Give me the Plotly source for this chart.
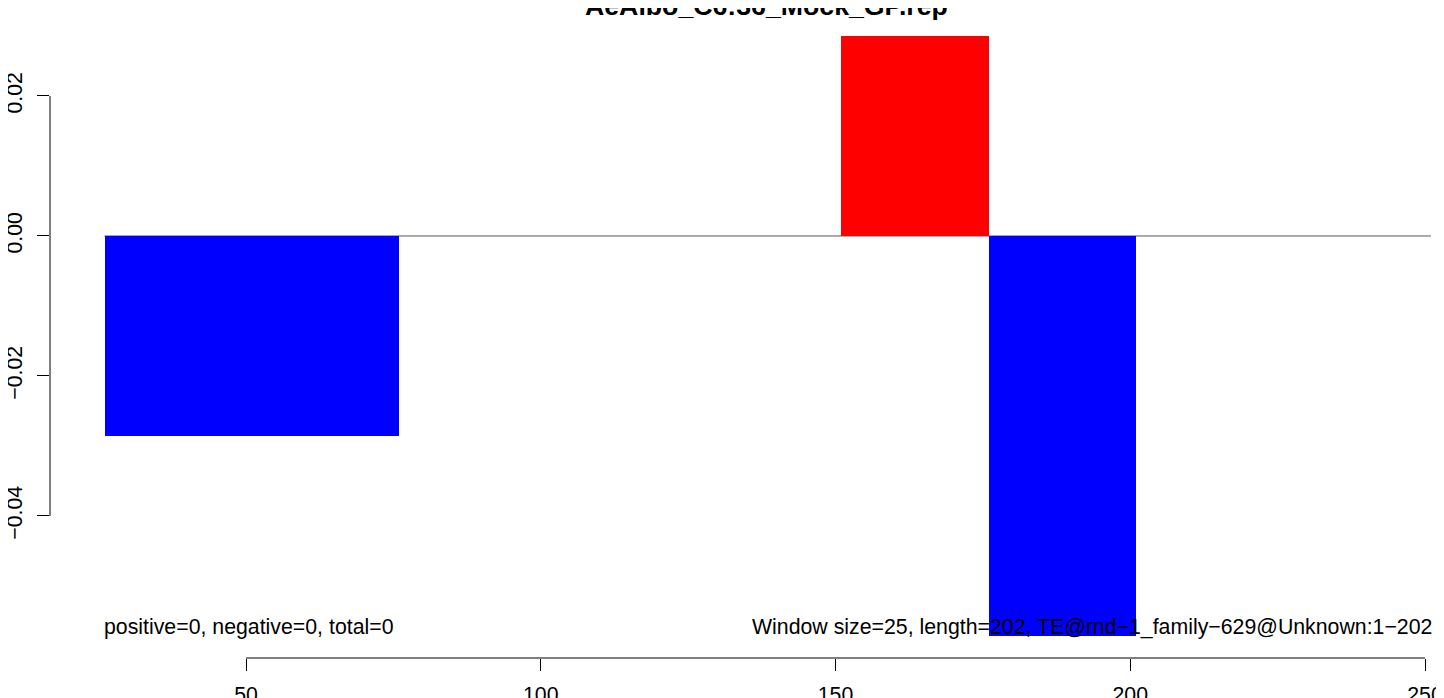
import plotly.graph_objects as go

# ---- data ----
window_starts = [26, 51, 76, 101, 126, 151, 176, 201, 226]
window_values = [-0.0286, -0.0286, 0.0, 0.0, 0.0, 0.0286, -0.0571, 0.0, 0.0]
window_size = 25
x_ticks = [50, 100, 150, 200, 250]
y_ticks = [0.02, 0.00, -0.02, -0.04]
y_tick_labels = ["0.02", "0.00", "\u22120.02", "\u22120.04"]
title_text = "AeAlbo_C6:36_Mock_GP.rep"
left_note = "positive=0, negative=0, total=0"
right_note = "Window size=25, length=202, TE@rnd\u22121_family\u2212629@Unknown:1\u2212202"

FONT = "Liberation Sans, Arial, Helvetica, sans-serif"
FS = 21.3

colors = ["#FF0000" if v > 0 else "#0000FF" for v in window_values]
centers = [s + window_size / 2 for s in window_starts]

fig = go.Figure()
fig.add_trace(go.Bar(
    x=centers, y=window_values, width=[window_size] * len(centers),
    marker=dict(color=colors, line=dict(width=0)),
    hoverinfo="x+y", showlegend=False,
))

x_end = window_starts[-1] + window_size

fig.update_layout(
    width=1436, height=690,
    margin=dict(l=42, r=0, t=0, b=40, autoexpand=False),
    paper_bgcolor="white", plot_bgcolor="white",
    font=dict(family=FONT, size=FS, color="black"),
    bargap=0,
    xaxis=dict(
        range=[16.75, 253.22], showgrid=False, zeroline=False, showline=False,
        automargin=False,
        tickmode="array", tickvals=x_ticks, ticktext=[str(t) for t in x_ticks],
        ticks="outside", ticklen=12, tickwidth=1, tickcolor="black",
        ticklabelstandoff=5,
        tickfont=dict(family=FONT, size=FS),
    ),
    yaxis=dict(
        range=[-0.06029, 0.03257], showgrid=False, zeroline=False, showline=False,
        automargin=False,
        tickmode="array", tickvals=y_ticks, ticktext=y_tick_labels,
        ticks="outside", ticklen=12, tickwidth=1, tickcolor="black",
        ticklabelstandoff=6,
        tickangle=-90, tickfont=dict(family=FONT, size=FS),
    ),
    shapes=[
        # zero line
        dict(type="line", xref="x", yref="y", x0=window_starts[0], x1=x_end,
             y0=0, y1=0, line=dict(color="#555555", width=1), layer="below"),
        # x axis line
        dict(type="line", xref="x", yref="paper", x0=x_ticks[0], x1=x_ticks[-1],
             y0=0, y1=0, line=dict(color="black", width=1)),
        # y axis line
        dict(type="line", xref="paper", yref="y", x0=0, x1=0,
             y0=y_ticks[-1], y1=y_ticks[0], line=dict(color="black", width=1)),
    ],
    annotations=[
        dict(text="<b>" + title_text + "</b>", xref="paper", yref="paper",
             x=(758 - 42) / 1394, y=1.0, xanchor="center", yanchor="middle",
             yshift=2, showarrow=False, font=dict(family=FONT, size=26.7)),
        dict(text=left_note, xref="x", yref="y", x=window_starts[0], y=-0.0558,
             xanchor="left", yanchor="middle", xshift=-3, showarrow=False,
             font=dict(family=FONT, size=FS)),
        dict(text=right_note, xref="x", yref="y", x=x_end, y=-0.0558,
             xanchor="right", yanchor="middle", xshift=3, showarrow=False,
             font=dict(family=FONT, size=FS)),
    ],
)

fig.write_html("out.html")
